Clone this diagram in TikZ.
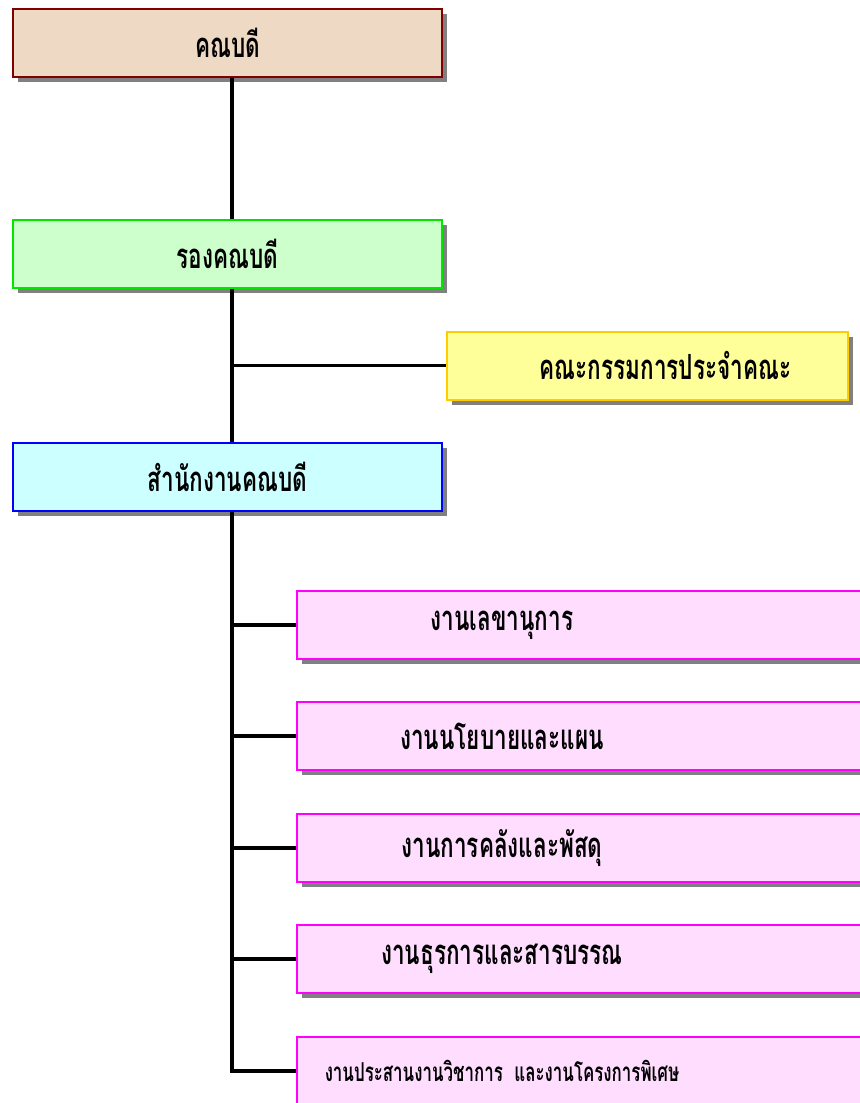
\documentclass[tikz,border=0pt]{standalone}
\usepackage{fontspec}
\newfontfamily\thaifont[Script=Thai,FakeStretch=0.65]{Loma}
\usetikzlibrary{shadows}
\definecolor{deanfill}{HTML}{EED9C4}
\definecolor{deanline}{HTML}{800000}
\definecolor{vicefill}{HTML}{CCFFCC}
\definecolor{viceline}{HTML}{00E600}
\definecolor{boardfill}{HTML}{FFFF99}
\definecolor{boardline}{HTML}{FFCC00}
\definecolor{officefill}{HTML}{CCFFFF}
\definecolor{officeline}{HTML}{0000FF}
\definecolor{unitfill}{HTML}{FFDDFF}
\definecolor{unitline}{HTML}{FF00FF}
\begin{document}
\begin{tikzpicture}[
    x=0.75pt, y=-0.75pt,
    font=\thaifont\bfseries\fontsize{26}{30}\selectfont,
    orgbox/.style={rectangle, draw, line width=1.5pt, minimum width=321.75pt, minimum height=51pt, inner sep=0pt,
        drop shadow={shadow xshift=3.75pt, shadow yshift=-3.75pt, fill=black!50, opacity=1}},
    unitbox/.style={orgbox, draw=unitline, fill=unitfill, minimum width=437.25pt, text width=437.25pt, align=left},
    trunk/.style={line width=2.6pt, black}
]
\useasboundingbox (0,0) rectangle (860,1103);
\clip (0,0) rectangle (860,1103);
\coordinate (spine) at (232,0);

\node[orgbox, draw=deanline, fill=deanfill](dean) at (227.5, 43) {คณบดี};
\node[orgbox, draw=viceline, fill=vicefill](vice) at (227.5, 253.5) {รองคณบดี};
\node[orgbox, draw=boardline, fill=boardfill, minimum width=300.75pt](board) at (647.5, 365.5) {\hspace*{27pt}คณะกรรมการประจำคณะ};
\node[orgbox, draw=officeline, fill=officefill](office) at (227.5, 476.5) {สำนักงานคณบดี};

\node[unitbox](u1) at (588.5, 625) {\makebox[307.5pt]{งานเลขานุการ}};
\node[unitbox](u2) at (588.5, 736) {\makebox[307.5pt]{งานนโยบายและแผน}};
\node[unitbox](u3) at (588.5, 848) {\makebox[307.5pt]{งานการคลังและพัสดุ}};
\node[unitbox](u4) at (588.5, 959) {\makebox[307.5pt]{งานธุรการและสารบรรณ}};
\node[unitbox](u5) at (588.5, 1071) {\makebox[307.5pt]{\fontsize{19.5}{23}\selectfont งานประสานงานวิชาการ และงานโครงการพิเศษ}};

\draw[trunk] (dean.south -| spine) -- (vice.north -| spine);
\draw[trunk] (vice.south -| spine) -- (office.north -| spine);
\draw[trunk] (spine |- board.west) -- (board.west);
\draw[trunk] (office.south -| spine) |- (u5.west);
\draw[trunk] (spine |- u1.west) -- (u1.west);
\draw[trunk] (spine |- u2.west) -- (u2.west);
\draw[trunk] (spine |- u3.west) -- (u3.west);
\draw[trunk] (spine |- u4.west) -- (u4.west);
\end{tikzpicture}
\end{document}
